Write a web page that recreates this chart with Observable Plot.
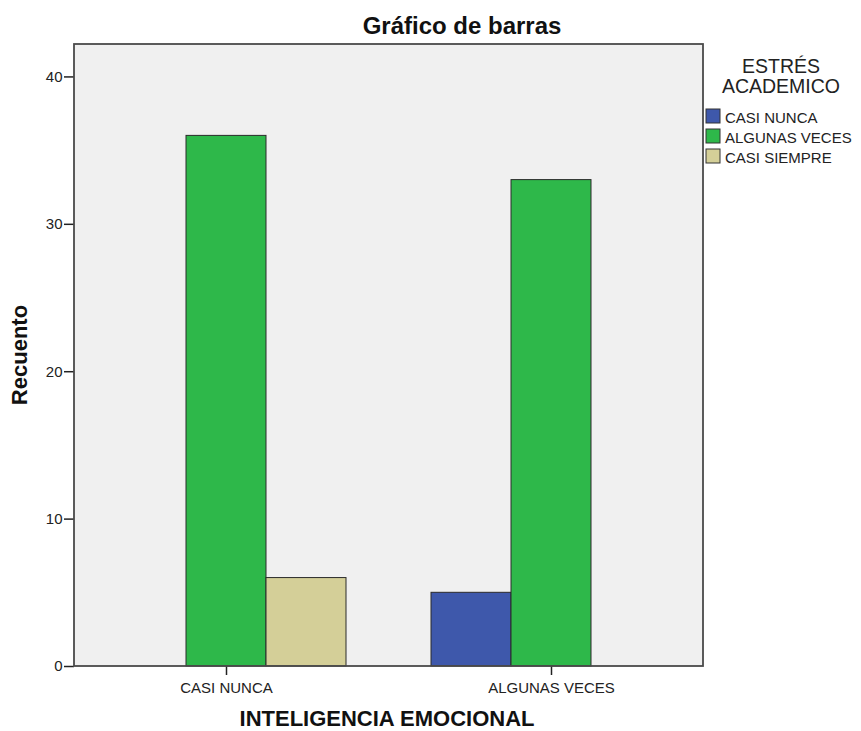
<!DOCTYPE html>
<html>
<head>
<meta charset="utf-8">
<script src="https://cdn.jsdelivr.net/npm/d3@7"></script>
<script src="https://cdn.jsdelivr.net/npm/@observablehq/plot@0.6"></script>
<style>
  body { margin: 0; background: #fff; }
  #chart svg { font-family: "Liberation Sans", Arial, sans-serif; display: block; }
</style>
</head>
<body>
<div id="chart"></div>
<script>
// INTELIGENCIA EMOCIONAL categories (x groups)
const groups = ["CASI NUNCA", "ALGUNAS VECES"];
// ESTRÉS ACADEMICO categories (bars within each group)
const series = ["CASI NUNCA", "ALGUNAS VECES", "CASI SIEMPRE"];
// Counts per ESTRÉS ACADEMICO category, one list per group
const countsCasiNunca = [0, 36, 6];
const countsAlgunasVeces = [5, 33, 0];
const seriesColors = ["#3e58ab", "#2eb84a", "#d4cf98"];
const yTicks = [0, 10, 20, 30, 40];
const yMax = 42.2;

const rows = [];
[countsCasiNunca, countsAlgunasVeces].forEach((counts, gi) => {
  counts.forEach((c, si) => {
    if (c > 0) rows.push({group: groups[gi], series: series[si], count: c});
  });
});

const chart = Plot.plot({
  width: 861,
  height: 731,
  marginTop: 44,
  marginRight: 158,
  marginBottom: 65,
  marginLeft: 74,
  style: {fontFamily: "'Liberation Sans', Arial, sans-serif", fontSize: "15px", color: "#222", background: "#fff"},
  fx: {domain: groups, paddingInner: 21 / 325, paddingOuter: 0, label: null},
  x: {domain: series, paddingInner: 0, paddingOuter: 0.4, axis: null},
  y: {domain: [0, yMax], label: null},
  color: {domain: series, range: seriesColors},
  marks: [
    Plot.barY(rows, {fx: "group", x: "series", y: "count", fill: "series", stroke: "#2a2a2a", strokeWidth: 1}),
    Plot.axisY({ticks: yTicks, tickSize: 10, tickPadding: 2, label: null, strokeWidth: 1.5, fontSize: 15}),
    Plot.axisFx({anchor: "bottom", tickSize: 9, tickPadding: 7, label: null, strokeWidth: 1.5, fontSize: 15})
  ]
});

document.getElementById("chart").appendChild(chart);

const svg = d3.select(chart);
const [fxa, fxb] = chart.scale("fx").range;
const [yb, yt] = chart.scale("y").range;
const areaLeft = Math.min(fxa, fxb), areaRight = Math.max(fxa, fxb);
const areaTop = Math.min(yb, yt), areaBottom = Math.max(yb, yt);

// plot-area background behind the bars
svg.insert("rect", "g")
  .attr("x", areaLeft).attr("y", areaTop)
  .attr("width", areaRight - areaLeft).attr("height", areaBottom - areaTop)
  .attr("fill", "#f0f0f0");

// plot-area border
svg.append("rect")
  .attr("x", areaLeft).attr("y", areaTop)
  .attr("width", areaRight - areaLeft).attr("height", areaBottom - areaTop)
  .attr("fill", "none").attr("stroke", "#4a4a4a").attr("stroke-width", 1.8);

// title
svg.append("text")
  .attr("x", 462).attr("y", 34)
  .attr("text-anchor", "middle")
  .attr("font-size", 24).attr("font-weight", "bold").attr("fill", "#111")
  .text("Gráfico de barras");

// axis titles
svg.append("text")
  .attr("x", 387).attr("y", 726)
  .attr("text-anchor", "middle")
  .attr("font-size", 22).attr("font-weight", "bold").attr("fill", "#111")
  .text("INTELIGENCIA EMOCIONAL");

svg.append("text")
  .attr("transform", `translate(27,355) rotate(-90)`)
  .attr("text-anchor", "middle")
  .attr("font-size", 22).attr("font-weight", "bold").attr("fill", "#111")
  .text("Recuento");

// legend
const color = chart.scale("color");
const lg = svg.append("g").attr("fill", "#222");
lg.append("text").attr("x", 781).attr("y", 73).attr("text-anchor", "middle").attr("font-size", 19.5).text("ESTRÉS");
lg.append("text").attr("x", 781).attr("y", 93).attr("text-anchor", "middle").attr("font-size", 19.5).text("ACADEMICO");
series.forEach((s, i) => {
  lg.append("rect")
    .attr("x", 706).attr("y", 109 + i * 20)
    .attr("width", 14).attr("height", 14)
    .attr("fill", color.apply(s)).attr("stroke", "#333").attr("stroke-width", 1);
  lg.append("text")
    .attr("x", 725).attr("y", 123 + i * 20)
    .attr("text-anchor", "start")
    .attr("font-size", 15)
    .text(s);
});
</script>
</body>
</html>
